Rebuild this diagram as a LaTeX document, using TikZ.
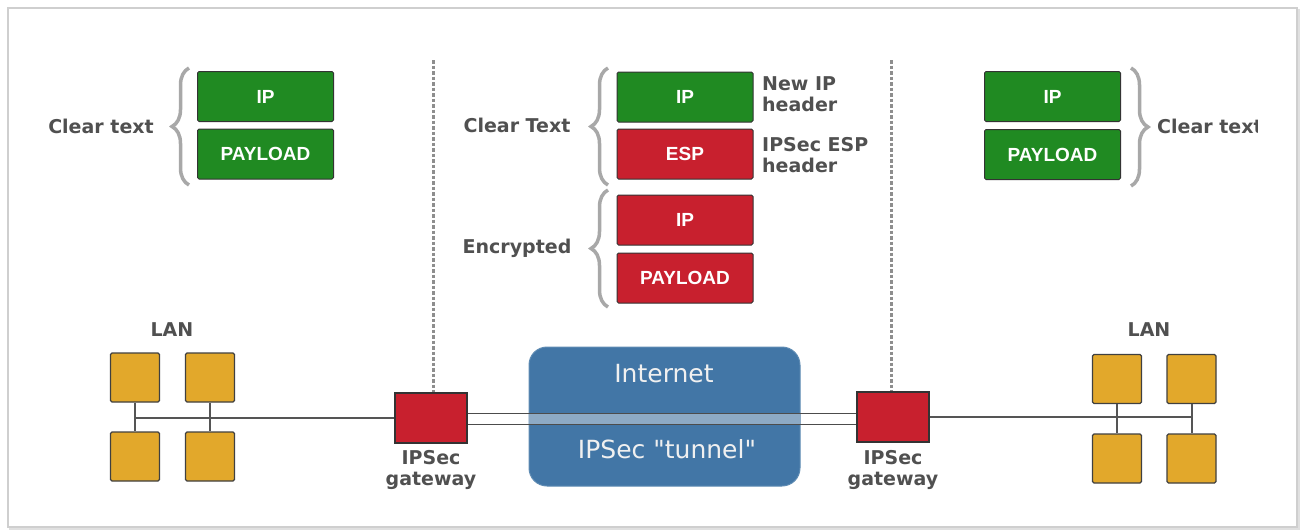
\documentclass[tikz,border=0pt]{standalone}
\usepackage{fontspec}
\setmainfont{DejaVu Sans}
\newfontfamily\boxfont{Liberation Sans}
\newfontfamily\inetfont{DejaVu Sans}[Ligatures=TeXOff]
\usetikzlibrary{decorations.pathreplacing}
\definecolor{pgreen}{HTML}{208A22}
\definecolor{pred}{HTML}{C8202E}
\definecolor{pyellow}{HTML}{E2A82B}
\definecolor{pblue}{HTML}{4276A6}
\definecolor{pband}{HTML}{8DAAC5}
\definecolor{labgray}{HTML}{505050}
\definecolor{bracegray}{HTML}{A8A8A8}
\definecolor{framegray}{HTML}{CFCFCF}
\definecolor{linegray}{HTML}{555555}
\definecolor{dashgray}{HTML}{8E8E8E}
\begin{document}
\begin{tikzpicture}[x=1pt,y=-1pt,
  pkt/.style={draw=black!80, line width=1pt, rounded corners=1.5pt, minimum width=136pt, minimum height=50pt, inner sep=0pt, font=\boxfont\bfseries\fontsize{19}{21}\selectfont, text=white},
  gpkt/.style={pkt, fill=pgreen},
  rpkt/.style={pkt, fill=pred},
  lab/.style={text=labgray, font=\bfseries\fontsize{19}{21}\selectfont, inner sep=0pt},
  brc/.style={decorate, decoration={brace, amplitude=17pt, aspect=0.5}, draw=bracegray, line width=3.5pt},
  pc/.style={draw=black!75, line width=1.2pt, rounded corners=1.5pt, fill=pyellow, minimum width=49pt, minimum height=49pt, inner sep=0pt},
  gw/.style={draw=black!80, line width=1.2pt, fill=pred, minimum width=72pt, minimum height=50pt, inner sep=0pt},
  dashline/.style={draw=dashgray, line width=3pt, dash pattern=on 3.5pt off 2pt},
  wire/.style={draw=linegray, line width=2pt},
  tline/.style={draw=black!70, line width=1.5pt},
  inettext/.style={text=white!94!black, font=\inetfont\fontsize{25}{27}\selectfont, inner sep=0pt}
]
\useasboundingbox (0,0) rectangle (1301,530);
% frame
\draw[black!12, line width=2pt] (10,10) rectangle (1299,529);
\draw[framegray, line width=1.5pt, fill=white] (8,8) rectangle (1297,527);

% left packet
\node[gpkt] (lIP) at (265.5,96.5) {IP};
\node[gpkt] (lPL) at (265.5,154) {PAYLOAD};
\draw[brc] (189,185) -- (189,68);
\node[lab, anchor=base] (lClear) at (101,133) {Clear text};

% middle packet
\node[gpkt] (mIP) at (685,97) {IP};
\node[rpkt] (mESP) at (685,154) {ESP};
\node[rpkt] (mIP2) at (685,220) {IP};
\node[rpkt] (mPL) at (685,278) {PAYLOAD};
\draw[brc] (608,185) -- (608,68);
\draw[brc] (608,307) -- (608,190);
\node[lab, anchor=base] (mClear) at (517,132) {Clear Text};
\node[lab, anchor=base] (mEnc) at (517,253) {Encrypted};
\node[lab, anchor=north west, align=left] (mNew) at (762,76) {New IP\\header};
\node[lab, anchor=north west, align=left] (mESPl) at (762,137) {IPSec ESP\\header};

% right packet
\node[gpkt] (rIP) at (1052.5,96.5) {IP};
\node[gpkt] (rPL) at (1052.5,154.5) {PAYLOAD};
\draw[brc] (1131,68) -- (1131,186);
\begin{scope}
\clip (1150,100) rectangle (1257,160);
\node[lab, anchor=base west] (rClear) at (1157,133) {Clear text};
\end{scope}

% gateways
\node[gw] (gwL) at (431,418) {};
\node[gw] (gwR) at (893,417) {};
\node[lab, anchor=north, align=center] (gwLl) at (431,450) {IPSec\\gateway};
\node[lab, anchor=north, align=center] (gwRl) at (893,450) {IPSec\\gateway};

% dashed separators
\coordinate (dL) at (433,60);
\coordinate (dR) at (891,60);
\draw[dashline] (dL) -- (dL |- gwL.north);
\draw[dashline] (dR) -- (dR |- gwR.north);

% internet cloud
\node[draw=pblue!85!white, line width=1pt, fill=pblue, rounded corners=18pt, minimum width=271pt, minimum height=139pt, inner sep=0pt] (inet) at (664.5,416.5) {};
\coordinate (tT1) at ([yshift=4.5pt]gwL.east);
\coordinate (tB1) at ([yshift=-6.5pt]gwL.east);
\coordinate (tT2) at ([yshift=4.5pt]gwL.east -| gwR.west);
\coordinate (tB2) at ([yshift=-6.5pt]gwL.east -| gwR.west);
\fill[pband] (inet.west |- tT1) rectangle (inet.east |- tB1);
\draw[tline] (tT1) -- (tT2);
\draw[tline] (tB1) -- (tB2);
\node[inettext, anchor=base] (inetT) at (664,382) {Internet};
\node[inettext, anchor=base] (inetB) at (667,458) {IPSec "tunnel"};

% left LAN
\node[pc] (la) at (135,377.5) {};
\node[pc] (lb) at (210,377.5) {};
\node[pc] (lc) at (135,456.5) {};
\node[pc] (ld) at (210,456.5) {};
\node[lab, anchor=base] (lanL) at (172,336) {LAN};
\draw[wire] (la) -- (lc);
\draw[wire] (lb) -- (ld);
\draw[wire] (la |- gwL.west) -- (gwL.west);

% right LAN
\node[pc] (ra) at (1117,379) {};
\node[pc] (rb) at (1191.5,379) {};
\node[pc] (rc) at (1117,458.5) {};
\node[pc] (rd) at (1191.5,458.5) {};
\node[lab, anchor=base] (lanR) at (1149,336) {LAN};
\draw[wire] (ra) -- (rc);
\draw[wire] (rb) -- (rd);
\draw[wire] (gwR.east) -- (rb |- gwR.east);
\end{tikzpicture}
\end{document}
